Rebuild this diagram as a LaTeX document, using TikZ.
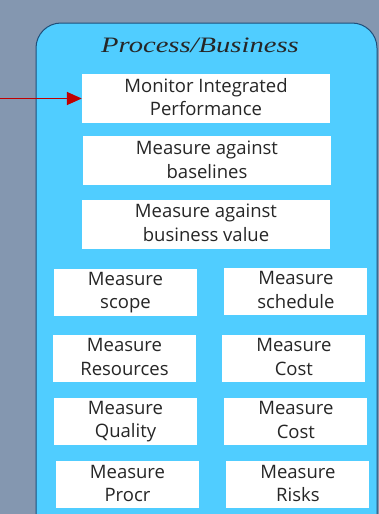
\documentclass[tikz,border=0pt]{standalone}
\usepackage{fontspec}
\setmainfont{Open Sans}
\newfontfamily\titlefont[FakeStretch=1.3]{Liberation Serif}
\usepackage{tikz}
\usetikzlibrary{arrows.meta,positioning}
\definecolor{slate}{HTML}{8497B0}
\definecolor{sky}{HTML}{50CDFF}
\definecolor{navyline}{HTML}{1F4E79}
\definecolor{arrowred}{HTML}{C00000}
\tikzset{
    %Define standard arrow tip
    >={Triangle[length=15pt,width=13pt]},
    %Define style for boxes
    bigbox/.style={
           rectangle,
           fill=white,
           minimum width=248pt,
           minimum height=49pt,
           inner sep=0pt,
           align=center,
           font=\fontsize{18.5}{23.7}\selectfont,
           text=black!85,
           execute at begin node={\rule{0pt}{21pt}},
           execute at end node={\rule[-3pt]{0pt}{3pt}}},
    smallbox/.style={
           bigbox,
           minimum width=143pt,
           minimum height=47pt},
    % Define arrow style
    pil/.style={
           ->,
           draw=arrowred,
           line width=1.5pt}
}
\begin{document}
\begin{tikzpicture}[x=1pt,y=-1pt]
 \useasboundingbox[fill=slate] (0,0) rectangle (379,514);
 %panel
 \path[fill=sky,draw=navyline,line width=1pt,rounded corners=25pt]
    (36,540) -- (36,23) -- (377,23) -- (377,540);
 \node[font=\titlefont\itshape\fontsize{22}{22}\selectfont,text=black!85,anchor=base] (title) at (200,52) {Process/Business};
 %nodes
 \node[bigbox] (monitor) at (206,98.5) {Monitor Integrated\\Performance};
 \node[bigbox, below=13pt of monitor, xshift=1pt] (baselines) {Measure against\\baselines};
 \node[bigbox, below=14pt of baselines, xshift=-1pt] (value) {Measure against\\business value};
 \node[smallbox, below=20pt of value, xshift=-80.5pt] (scope) {Measure\\scope};
 \node[smallbox, right=27pt of scope, yshift=1pt] (schedule) {Measure\\schedule};
 \node[smallbox, below=18pt of scope, xshift=-1pt] (resources) {Measure\\Resources};
 \node[smallbox, right=26pt of resources] (cost) {Measure\\Cost};
 \node[smallbox, below=16pt of resources, xshift=1pt] (quality) {Measure\\Quality};
 \node[smallbox, right=27pt of quality] (costb) {Measure\\Cost};
 \node[smallbox, below=16pt of quality, xshift=2pt] (procr) {Measure\\Procr};
 \node[smallbox, right=27pt of procr] (risks) {Measure\\Risks};
 %arrow
 \coordinate (src) at (0,98.5);
 \draw[pil] (src) -- (monitor);
\end{tikzpicture}
\end{document}
